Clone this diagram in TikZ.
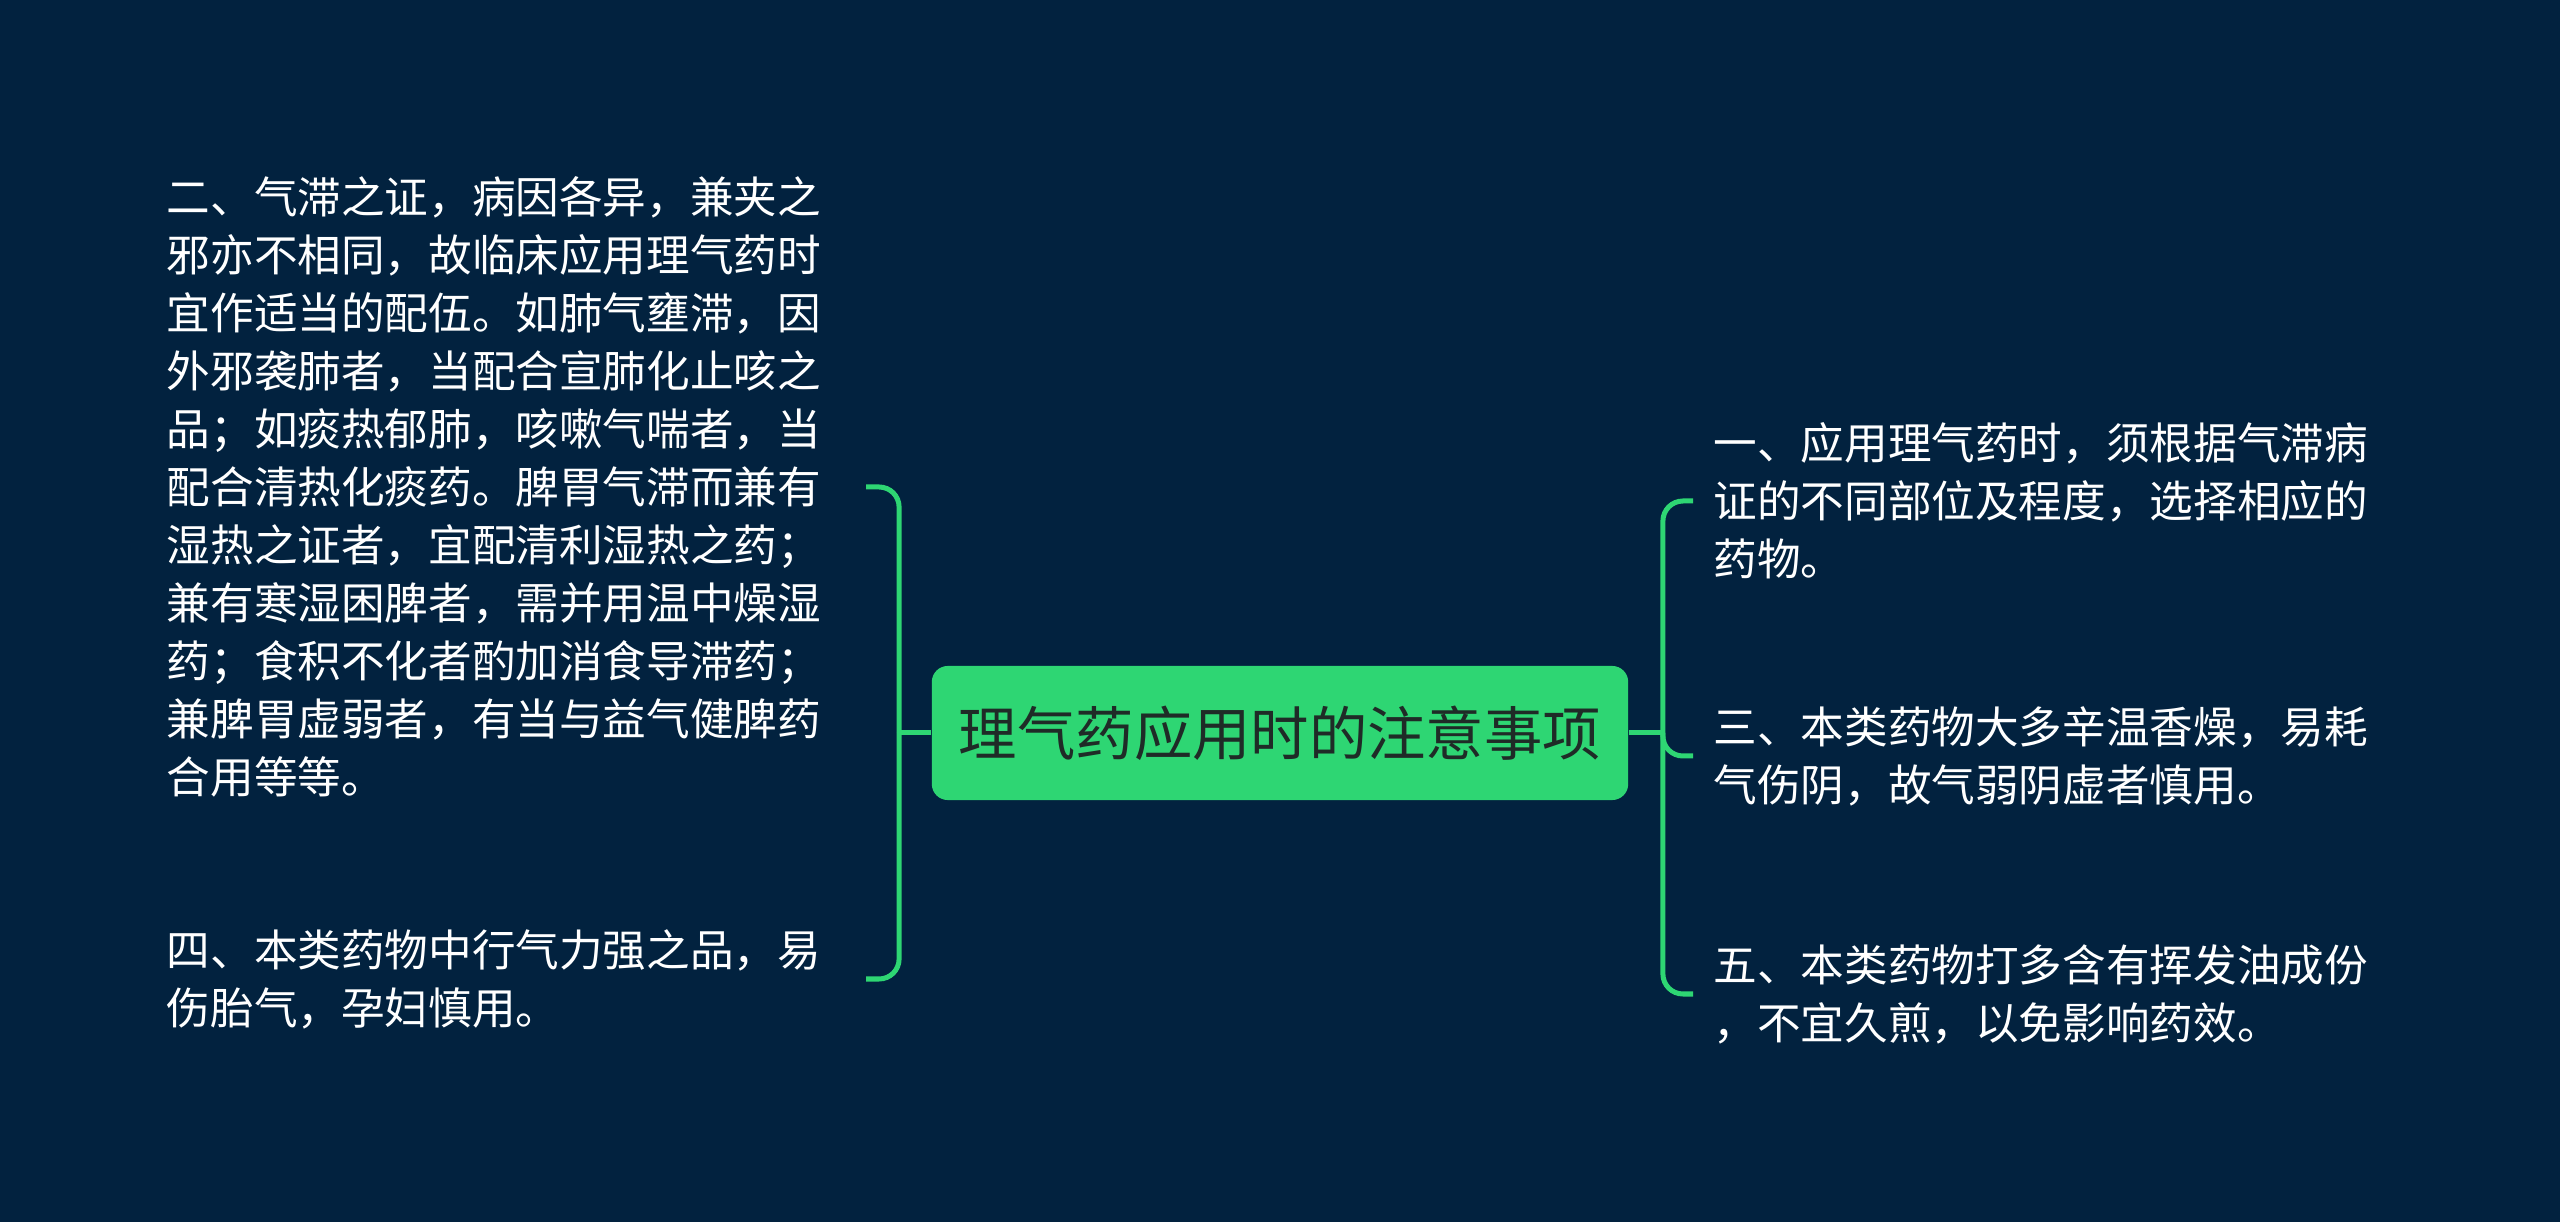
\documentclass[tikz,border=0pt]{standalone}
\usepackage{fontspec}
\setmainfont{Noto Sans CJK SC}
\usetikzlibrary{positioning}
\definecolor{bgnavy}{HTML}{02223F}
\definecolor{mintgreen}{HTML}{2ED673}
\definecolor{rootink}{HTML}{1F2B27}
\tikzset{
  root/.style={fill=mintgreen,rounded corners=0.16cm,minimum width=6.96cm,minimum height=1.34cm,
    text=rootink,font=\fontsize{16.6pt}{20pt}\selectfont},
  leaf/.style={text=white,align=left,text width=6.78cm,inner xsep=0.2cm,inner ysep=0pt,
    font=\fontsize{12.4pt}{16.5pt}\selectfont},
  link/.style={draw=mintgreen,line width=0.05cm,rounded corners=0.2cm}
}

\begin{document}
\begin{tikzpicture}[x=0.01cm,y=-0.01cm]
  \fill[bgnavy] (0,0) rectangle (2560,1222);
  \node[root] (root) at (1280,733) {理气药应用时的注意事项};
  % left side
  \node[leaf,anchor=east] (l2) at (866,487) {二、气滞之证，病因各异，兼夹之\\
    邪亦不相同，故临床应用理气药时\\
    宜作适当的配伍。如肺气壅滞，因\\
    外邪袭肺者，当配合宣肺化止咳之\\
    品；如痰热郁肺，咳嗽气喘者，当\\
    配合清热化痰药。脾胃气滞而兼有\\
    湿热之证者，宜配清利湿热之药；\\
    兼有寒湿困脾者，需并用温中燥湿\\
    药；食积不化者酌加消食导滞药；\\
    兼脾胃虚弱者，有当与益气健脾药\\
    合用等等。};
  \node[leaf,anchor=east] (l4) at (866,979) {四、本类药物中行气力强之品，易\\
    伤胎气，孕妇慎用。};
  % right side
  \node[leaf,anchor=west] (r1) at (1693,501) {一、应用理气药时，须根据气滞病\\
    证的不同部位及程度，选择相应的\\
    药物。};
  \node[leaf,anchor=west] (r3) at (1693,756) {三、本类药物大多辛温香燥，易耗\\
    气伤阴，故气弱阴虚者慎用。};
  \node[leaf,anchor=west] (r5) at (1693,994) {五、本类药物打多含有挥发油成份\\
    ，不宜久煎，以免影响药效。};
  \draw[link] (root.west) -- ++(-32,0) coordinate (lj);
  \draw[link] (lj) |- (l2.east);
  \draw[link] (lj) |- (l4.east);
  \draw[link] (root.east) -- ++(34,0) coordinate (rj);
  \draw[link] (rj) |- (r1.west);
  \draw[link] (rj) |- (r3.west);
  \draw[link] (rj) |- (r5.west);
\end{tikzpicture}
\end{document}
